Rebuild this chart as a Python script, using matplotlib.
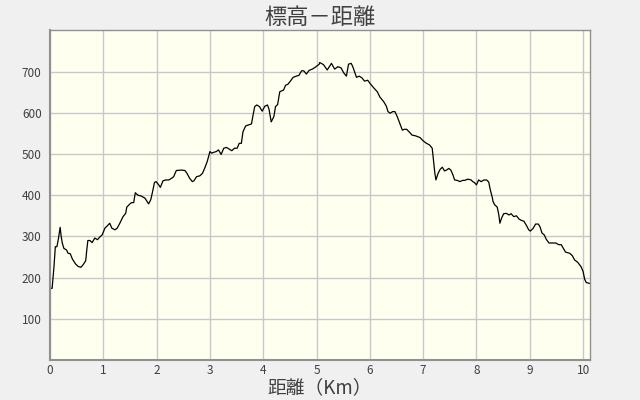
import matplotlib
matplotlib.use('Agg')
import matplotlib.pyplot as plt
import numpy as np

plt.rcParams['font.family'] = ['Noto Sans CJK JP', 'DejaVu Sans']

# 距離 (km) と 標高 (m)
dist = [0.01, 0.04, 0.06, 0.075, 0.10, 0.13, 0.16, 0.19, 0.21, 0.23, 0.26, 0.31,
        0.34, 0.38, 0.42, 0.48, 0.53, 0.58, 0.62, 0.67, 0.69, 0.71, 0.75, 0.79,
        0.84, 0.89, 0.93, 0.98, 1.03, 1.07, 1.12, 1.16, 1.22, 1.26, 1.31, 1.37,
        1.42, 1.44, 1.50, 1.53, 1.57, 1.60, 1.65, 1.71, 1.78, 1.81, 1.85, 1.89,
        1.92, 1.96, 1.99, 2.04, 2.07, 2.12, 2.17, 2.23, 2.28, 2.32, 2.37, 2.46,
        2.53, 2.57, 2.62, 2.67, 2.70, 2.75, 2.81, 2.86, 2.90, 2.95, 3.00, 3.03,
        3.07, 3.12, 3.16, 3.21, 3.26, 3.31, 3.36, 3.41, 3.46, 3.51, 3.55, 3.59,
        3.62, 3.67, 3.71, 3.78, 3.81, 3.84, 3.88, 3.93, 3.98, 4.03, 4.08, 4.11,
        4.15, 4.20, 4.23, 4.27, 4.31, 4.34, 4.38, 4.42, 4.46, 4.51, 4.56, 4.62,
        4.67, 4.72, 4.76, 4.81, 4.86, 4.92, 4.97, 5.01, 5.05, 5.06, 5.13, 5.20,
        5.28, 5.34, 5.40, 5.46, 5.51, 5.56, 5.60, 5.65, 5.68, 5.75, 5.80, 5.85,
        5.90, 5.96, 6.00, 6.07, 6.14, 6.19, 6.26, 6.31, 6.34, 6.38, 6.43, 6.47,
        6.51, 6.56, 6.61, 6.65, 6.69, 6.75, 6.79, 6.86, 6.94, 7.00, 7.06, 7.12,
        7.17, 7.20, 7.22, 7.24, 7.28, 7.32, 7.36, 7.40, 7.44, 7.48, 7.52, 7.56,
        7.59, 7.64, 7.69, 7.74, 7.78, 7.84, 7.90, 7.93, 7.96, 8.00, 8.04, 8.09,
        8.14, 8.19, 8.23, 8.26, 8.30, 8.31, 8.34, 8.39, 8.42, 8.44, 8.47, 8.51,
        8.56, 8.61, 8.65, 8.70, 8.75, 8.80, 8.84, 8.89, 8.94, 8.98, 9.01, 9.06,
        9.11, 9.16, 9.19, 9.23, 9.27, 9.31, 9.36, 9.43, 9.49, 9.54, 9.59, 9.64,
        9.67, 9.75, 9.80, 9.84, 9.90, 9.96, 10.00, 10.03, 10.06, 10.12]
elev = [174, 174, 203, 227, 275, 275, 296, 322, 300, 284, 271, 267,
        259, 258, 245, 233, 227, 225, 231, 241, 267, 290, 290, 285,
        296, 292, 298, 304, 320, 325, 332, 320, 316, 320, 332, 348,
        356, 371, 379, 382, 382, 406, 400, 398, 393, 387, 379, 389,
        406, 431, 433, 425, 419, 435, 437, 437, 441, 445, 460, 461,
        460, 453, 441, 433, 435, 445, 447, 453, 465, 482, 506, 502,
        504, 506, 510, 499, 514, 516, 512, 508, 514, 514, 526, 526,
        554, 568, 570, 573, 595, 615, 619, 615, 604, 616, 619, 608,
        578, 591, 615, 620, 651, 653, 655, 667, 669, 677, 686, 689,
        691, 702, 702, 694, 703, 706, 710, 714, 718, 722, 717, 704,
        720, 706, 712, 709, 697, 689, 718, 720, 712, 686, 689, 685,
        677, 679, 672, 661, 651, 638, 627, 616, 603, 599, 603, 603,
        592, 575, 558, 560, 560, 552, 546, 544, 540, 532, 526, 522,
        514, 478, 453, 437, 453, 463, 468, 459, 461, 465, 461, 449,
        437, 436, 433, 436, 436, 439, 437, 433, 431, 425, 437, 433,
        437, 437, 432, 413, 393, 385, 377, 371, 352, 332, 344, 355,
        356, 352, 355, 348, 350, 342, 339, 337, 326, 316, 313, 319,
        330, 330, 324, 308, 304, 293, 284, 284, 284, 280, 280, 269,
        262, 259, 253, 243, 237, 227, 215, 196, 188, 186]

xticks = list(range(0, 11))
yticks = [100, 200, 300, 400, 500, 600, 700]

fig = plt.figure(figsize=(6.4, 4.0), dpi=100, facecolor='#f0f0f0')
ax = fig.add_axes([50/640, 40/400, 540/640, 330/400])
ax.set_facecolor('#fffff0')

ax.plot(dist, elev, color='black', linewidth=0.9)

ax.set_xlim(0, 10.13)
ax.set_ylim(0, 801)
ax.set_xticks(xticks)
ax.set_yticks(yticks)
ax.grid(True, color='#c8c8c8', linewidth=1.0)
ax.set_axisbelow(True)
ax.tick_params(length=0, labelsize=8.5, labelcolor='#404040')
ax.tick_params(axis='x', pad=3)
ax.tick_params(axis='y', pad=6)
for s in ax.spines.values():
    s.set_color('#909090')
    s.set_linewidth(1.0)
ax.spines['left'].set_linewidth(1.5)
ax.spines['bottom'].set_linewidth(1.5)

ax.set_title('標高－距離', fontsize=16, color='#404040', pad=4)
ax.set_xlabel('距離（Km）', fontsize=13.5, color='#404040', labelpad=0)

fig.savefig('out.png', dpi=100, facecolor=fig.get_facecolor())
